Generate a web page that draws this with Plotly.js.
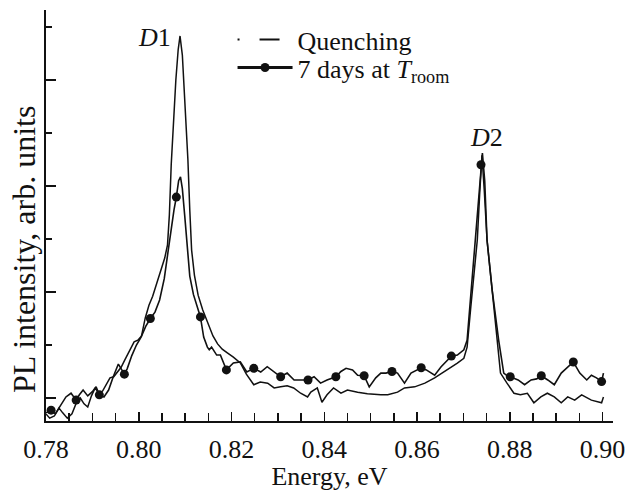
<!DOCTYPE html>
<html>
<head>
<meta charset="utf-8">
<script src="https://cdn.plot.ly/plotly-3.0.1.min.js"></script>
<style>html,body{margin:0;padding:0;background:#fff;}#chart{width:628px;height:491px;}</style>
</head>
<body>
<div id="chart"></div>
<script>
// Quenching spectrum (energy eV, PL intensity arb. units)
const quenchX = [0.7800,0.7808,0.7818,0.7828,0.7836,0.7846,0.7856,0.7866,0.7874,0.7882,0.7890,0.7898,0.7906,0.7914,0.7922,0.7930,0.7938,0.7946,0.7954,0.7962,0.7970,0.7980,0.7990,0.7998,0.8006,0.8014,0.8022,0.8030,0.8040,0.8048,0.8056,0.8062,0.8066,0.8070,0.8075,0.8080,0.8085,0.8089,0.8094,0.8098,0.8102,0.8106,0.8110,0.8114,0.8120,0.8128,0.8138,0.8148,0.8160,0.8170,0.8180,0.8191,0.8204,0.8219,0.8232,0.8248,0.8262,0.8278,0.8292,0.8306,0.8320,0.8334,0.8349,0.8364,0.8371,0.8385,0.8395,0.8406,0.8420,0.8436,0.8450,0.8472,0.8493,0.8522,0.8537,0.8558,0.8573,0.8595,0.8617,0.8638,0.8665,0.8687,0.8701,0.8708,0.8716,0.8723,0.8730,0.8735,0.8740,0.8745,0.8751,0.8762,0.8773,0.8780,0.8794,0.8809,0.8823,0.8838,0.8852,0.8867,0.8881,0.8896,0.8911,0.8925,0.8940,0.8955,0.8976,0.8998,0.9002];
const quenchY = [-0.30,-0.38,-0.34,-0.19,-0.28,-0.38,-0.30,-0.08,0.00,-0.11,-0.17,0.04,0.19,0.08,0.13,0.25,0.38,0.40,0.48,0.58,0.72,0.90,1.06,1.09,1.17,1.51,1.75,1.92,2.19,2.38,2.64,2.89,3.45,4.40,5.25,6.00,6.57,6.83,6.47,5.81,5.15,4.49,3.55,2.79,2.32,1.94,1.66,1.43,1.17,1.02,0.92,0.85,0.77,0.66,0.45,0.25,0.30,0.28,0.19,0.21,0.23,0.19,0.09,0.02,0.11,0.19,-0.08,0.06,0.19,0.09,0.15,0.11,0.08,0.06,0.06,0.11,0.19,0.21,0.28,0.38,0.53,0.66,0.75,0.96,1.72,2.36,2.98,3.83,4.58,3.92,2.98,2.04,1.09,0.47,0.28,0.09,0.06,0.09,-0.09,0.02,0.09,0.02,-0.09,0.02,-0.04,0.06,-0.04,-0.09,0.02];

// 7 days at room temperature spectrum
const roomX = [0.7800,0.7811,0.7820,0.7830,0.7843,0.7854,0.7865,0.7872,0.7880,0.7890,0.7900,0.7908,0.7915,0.7925,0.7935,0.7945,0.7956,0.7969,0.7975,0.7985,0.7995,0.8005,0.8015,0.8025,0.8035,0.8045,0.8055,0.8063,0.8070,0.8076,0.8081,0.8086,0.8090,0.8094,0.8099,0.8104,0.8110,0.8118,0.8125,0.8133,0.8140,0.8148,0.8152,0.8157,0.8168,0.8176,0.8189,0.8204,0.8219,0.8233,0.8248,0.8263,0.8277,0.8292,0.8306,0.8320,0.8335,0.8349,0.8365,0.8378,0.8392,0.8406,0.8425,0.8436,0.8447,0.8461,0.8472,0.8486,0.8497,0.8511,0.8522,0.8533,0.8546,0.8558,0.8573,0.8587,0.8609,0.8620,0.8638,0.8652,0.8674,0.8687,0.8701,0.8708,0.8717,0.8723,0.8730,0.8738,0.8741,0.8746,0.8751,0.8762,0.8776,0.8787,0.8797,0.8801,0.8818,0.8832,0.8846,0.8858,0.8868,0.8882,0.8896,0.8911,0.8937,0.8951,0.8966,0.8976,0.8987,0.8998,0.9002];
const roomY = [-0.28,-0.23,-0.30,-0.15,0.02,0.09,-0.04,0.06,0.15,0.04,0.12,0.21,0.06,0.02,0.15,0.40,0.64,0.45,0.55,0.80,1.00,1.15,1.35,1.50,1.62,1.85,2.25,2.75,3.20,3.55,3.79,4.10,4.17,3.95,3.45,2.85,2.30,1.95,1.75,1.53,1.15,0.96,0.91,0.96,0.81,0.81,0.53,0.66,0.68,0.49,0.56,0.49,0.59,0.49,0.40,0.47,0.34,0.34,0.34,0.40,0.28,0.34,0.40,0.50,0.56,0.53,0.43,0.42,0.21,0.38,0.47,0.47,0.50,0.47,0.28,0.47,0.57,0.53,0.43,0.59,0.79,0.81,0.91,1.09,2.04,2.66,3.40,4.40,4.62,4.10,2.98,2.04,1.09,0.47,0.40,0.40,0.34,0.25,0.34,0.36,0.42,0.34,0.25,0.47,0.68,0.47,0.34,0.43,0.38,0.31,0.47];

// marker points on the 7-day curve
const markX = [0.7811,0.7865,0.7915,0.7969,0.8025,0.8081,0.8133,0.8189,0.8248,0.8306,0.8365,0.8425,0.8486,0.8546,0.8609,0.8674,0.8738,0.8801,0.8868,0.8937,0.8998];
const markY = [-0.23,-0.04,0.06,0.45,1.50,3.79,1.53,0.53,0.56,0.40,0.34,0.40,0.42,0.50,0.57,0.79,4.40,0.40,0.42,0.68,0.31];

const xTicks = [0.78,0.80,0.82,0.84,0.86,0.88,0.90];
const xTickText = ['0.78','0.80','0.82','0.84','0.86','0.88','0.90'];
const yTicks = [0,2,4,6];

const peakLabels = ['<i>D</i>1','<i>D</i>2'];
const peakLabelX = [0.8034,0.8749];
const peakLabelY = [6.81,4.91];

const seriesNames = ['Quenching','7 days at <i>T</i><sub>room</sub>'];
const xTitle = 'Energy, eV';
const yTitle = 'PL intensity, arb. units';

const FONT = 'Liberation Serif, Times New Roman, serif';
const INK = '#111';

const traces = [
  {x: quenchX, y: quenchY, mode: 'lines', line: {color: INK, width: 1.5}, showlegend: false, hoverinfo: 'skip'},
  {x: roomX, y: roomY, mode: 'lines', line: {color: INK, width: 1.6}, showlegend: false, hoverinfo: 'skip'},
  {x: markX, y: markY, mode: 'markers', marker: {color: INK, size: 9}, showlegend: false, hoverinfo: 'skip'},
  {x: [null], y: [null], mode: 'lines', name: seriesNames[0], legend: 'legend', line: {color: INK, width: 2, dash: '2px,20px,20px,100px'}},
  {x: [null], y: [null], mode: 'lines+markers', name: seriesNames[1], legend: 'legend2', line: {color: INK, width: 3}, marker: {color: INK, size: 9}}
];

const annotations = peakLabels.map((t, i) => ({
  x: peakLabelX[i], y: peakLabelY[i], xref: 'x', yref: 'y', text: t, showarrow: false,
  xanchor: 'center', yanchor: 'middle', font: {family: FONT, size: 26, color: INK}
}));
annotations.push({
  x: -0.0388, y: 0.416, xref: 'paper', yref: 'paper', text: yTitle, showarrow: false,
  textangle: -90, xanchor: 'center', yanchor: 'middle', font: {family: FONT, size: 32, color: INK}
});

const legendBase = {xanchor: 'left', yanchor: 'top', bgcolor: 'rgba(0,0,0,0)', borderwidth: 0, itemwidth: 55,
  font: {family: FONT, size: 26, color: INK}};

const layout = {
  width: 628, height: 491,
  margin: {l: 46, r: 15, t: 10, b: 70, pad: 0},
  paper_bgcolor: '#fff', plot_bgcolor: '#fff',
  font: {family: FONT, size: 26, color: INK},
  showlegend: true,
  legend: Object.assign({x: 0.329, y: 0.985}, legendBase),
  legend2: Object.assign({x: 0.329, y: 0.917}, legendBase),
  xaxis: {
    range: [0.78, 0.90226], tickmode: 'array', tickvals: xTicks, ticktext: xTickText,
    ticks: 'inside', ticklen: 9, tickwidth: 1.5, tickcolor: INK,
    minor: {dtick: 0.005, ticks: 'inside', ticklen: 8, tickwidth: 1.5, tickcolor: INK, showgrid: false},
    showline: true, linecolor: INK, linewidth: 2, showgrid: false, zeroline: false,
    tickfont: {family: FONT, size: 26, color: INK}, ticklabelstandoff: 4,
    title: {text: xTitle, font: {family: FONT, size: 26, color: INK}, standoff: 0},
    automargin: false, fixedrange: true
  },
  yaxis: {
    range: [-0.434, 7.32], tickmode: 'array', tickvals: yTicks,
    ticks: 'inside', ticklen: 10, tickwidth: 1.5, tickcolor: INK,
    minor: {dtick: 2, tick0: 1, ticks: 'inside', ticklen: 6, tickwidth: 1.5, tickcolor: INK, showgrid: false},
    showticklabels: false,
    showline: true, linecolor: INK, linewidth: 2, showgrid: false, zeroline: false,
    automargin: false, fixedrange: true
  },
  annotations: annotations
};

Plotly.newPlot('chart', traces, layout, {staticPlot: true, displayModeBar: false});
</script>
</body>
</html>
